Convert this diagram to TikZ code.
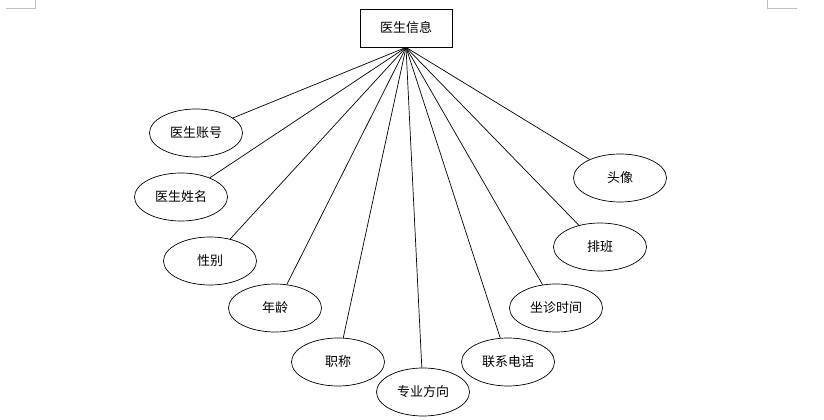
\documentclass[tikz,border=0pt]{standalone}
\usepackage{fontspec}
\setmainfont{Noto Sans CJK SC}
\usetikzlibrary{shapes.geometric}

\begin{document}
\begin{tikzpicture}[x=1pt,y=1pt,font=\fontsize{13}{15}\selectfont,
  ent/.style={draw,rectangle,minimum width=92pt,minimum height=38pt,inner sep=0pt,line width=0.8pt},
  attr/.style={draw,ellipse,minimum width=93pt,minimum height=48pt,inner sep=0pt,line width=0.7pt},
  cornermark/.style={draw=black!25,line width=0.8pt}]
\useasboundingbox (0,0) rectangle (824,420);
\path[cornermark] (6,412) -- (35,412) -- (35,420);
\path[cornermark] (767,420) -- (767,412) -- (797,412);
\node[ent] (doc) at (406,392) {医生信息};
\node[attr] (n1) at (196,287) {医生账号};
\node[attr] (n2) at (181,223) {医生姓名};
\node[attr] (n3) at (210,159) {性别};
\node[attr] (n4) at (275,112) {年龄};
\node[attr] (n5) at (338,58) {职称};
\node[attr] (n6) at (423,28) {专业方向};
\node[attr] (n7) at (508,58) {联系电话};
\node[attr] (n8) at (556,112) {坐诊时间};
\node[attr] (n9) at (600,173) {排班};
\node[attr] (n10) at (620,242) {头像};
\draw[line width=0.7pt] (doc.south) -- (n1);
\draw[line width=0.7pt] (doc.south) -- (n2);
\draw[line width=0.7pt] (doc.south) -- (n3);
\draw[line width=0.7pt] (doc.south) -- (n4);
\draw[line width=0.7pt] (doc.south) -- (n5);
\draw[line width=0.7pt] (doc.south) -- (n6);
\draw[line width=0.7pt] (doc.south) -- (n7);
\draw[line width=0.7pt] (doc.south) -- (n8);
\draw[line width=0.7pt] (doc.south) -- (n9);
\draw[line width=0.7pt] (doc.south) -- (n10);
\end{tikzpicture}
\end{document}
